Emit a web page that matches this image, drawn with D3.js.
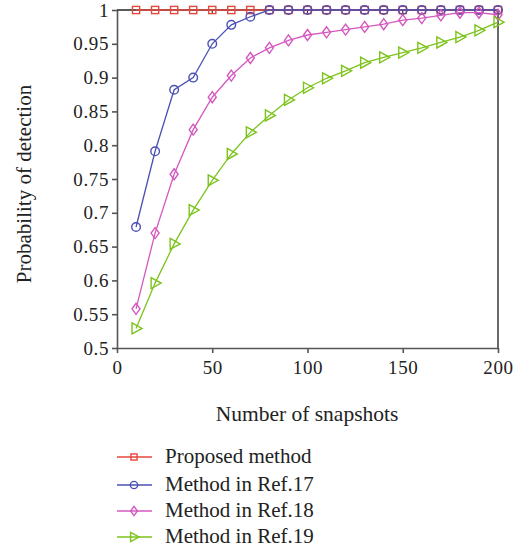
<!DOCTYPE html>
<html>
<head>
<meta charset="utf-8">
<script src="https://cdn.jsdelivr.net/npm/d3@7"></script>
<style>
  body { margin: 0; background: #fff; }
  svg { font-family: "Liberation Serif", "DejaVu Serif", serif; }
</style>
</head>
<body>
<div id="chart"></div>
<script>
// Snapshot counts on the x axis
const snapshots = [10, 20, 30, 40, 50, 60, 70, 80, 90, 100, 110, 120, 130, 140, 150, 160, 170, 180, 190, 200];

// Probability of detection per method
const proposed = [1, 1, 1, 1, 1, 1, 1, 1, 1, 1, 1, 1, 1, 1, 1, 1, 1, 1, 1, 1];
const ref17 = [0.679, 0.791, 0.882, 0.9, 0.95, 0.978, 0.99, 1, 1, 1, 1, 1, 1, 1, 1, 1, 1, 1, 1, 1];
const ref18 = [0.558, 0.670, 0.757, 0.823, 0.871, 0.903, 0.929, 0.944, 0.955, 0.963, 0.967, 0.971, 0.975, 0.979, 0.985, 0.988, 0.992, 0.996, 0.996, 0.993];
const ref19 = [0.529, 0.596, 0.654, 0.704, 0.748, 0.787, 0.819, 0.844, 0.867, 0.885, 0.899, 0.910, 0.922, 0.930, 0.937, 0.944, 0.952, 0.960, 0.970, 0.982];

const seriesNames = ["Proposed method", "Method in Ref.17", "Method in Ref.18", "Method in Ref.19"];
const xTicks = [0, 50, 100, 150, 200];
const yTicks = [0.5, 0.55, 0.6, 0.65, 0.7, 0.75, 0.8, 0.85, 0.9, 0.95, 1];

const series = [
    { name: seriesNames[0], values: proposed, color: "#e4473d", marker: "square" },
    { name: seriesNames[1], values: ref17, color: "#4b4fb3", marker: "circle" },
    { name: seriesNames[2], values: ref18, color: "#d458bf", marker: "diamond" },
    { name: seriesNames[3], values: ref19, color: "#7cc31c", marker: "triangle" }
];

const width = 531, height = 552;
const margin = { left: 117, right: 33, top: 10, bottom: 204 };

const svg = d3.select("#chart").append("svg")
    .attr("width", width)
    .attr("height", height);

const x = d3.scaleLinear().domain([0, 200]).range([margin.left, width - margin.right]);
const y = d3.scaleLinear().domain([0.5, 1]).range([height - margin.bottom, margin.top]);

// Draw a marker shape centred at (cx, cy); k scales it
function drawMarker(g, type, cx, cy, color, k) {
    const s = 3.6 * k;
    let m;
    if (type === "square") {
        m = g.append("rect").attr("x", cx - s).attr("y", cy - s).attr("width", 2 * s).attr("height", 2 * s);
    } else if (type === "circle") {
        m = g.append("circle").attr("cx", cx).attr("cy", cy).attr("r", 4.3 * k);
    } else if (type === "diamond") {
        m = g.append("path").attr("d", `M${cx},${cy - 5.5 * k}L${cx + 4 * k},${cy}L${cx},${cy + 5.5 * k}L${cx - 4 * k},${cy}Z`);
    } else {
        m = g.append("path").attr("d", `M${cx - 4 * k},${cy - 5.5 * k}L${cx + 6 * k},${cy}L${cx - 4 * k},${cy + 5.5 * k}Z`);
    }
    m.attr("fill", "none").attr("stroke", color).attr("stroke-width", 1.4);
}

// Axes
const xAxis = svg.append("g")
    .attr("transform", `translate(0,${y(0.5)})`)
    .call(d3.axisBottom(x).tickValues(xTicks).tickSize(5).tickSizeOuter(0));
const yAxis = svg.append("g")
    .attr("transform", `translate(${x(0)},0)`)
    .call(d3.axisLeft(y).tickValues(yTicks).tickFormat(d3.format("")).tickSize(5).tickSizeOuter(0));

[xAxis, yAxis].forEach(a => {
    a.selectAll("path, line").attr("stroke", "#555").attr("stroke-width", 1.6);
    a.selectAll("text").attr("fill", "#222").style("font-size", "19px")
        .style("letter-spacing", "0.6px").style("font-family", "Liberation Serif, serif");
});
xAxis.selectAll("text").attr("dy", "0.95em");
yAxis.selectAll("text").attr("x", -8);

// Top and right frame
svg.append("line").attr("x1", x(0)).attr("x2", x(200)).attr("y1", y(1)).attr("y2", y(1))
    .attr("stroke", "#222").attr("stroke-width", 1.4);
svg.append("line").attr("x1", x(200)).attr("x2", x(200)).attr("y1", y(1)).attr("y2", y(0.5))
    .attr("stroke", "#444").attr("stroke-width", 1.6);
svg.selectAll(".toptick").data(xTicks.slice(1, 4)).enter().append("line")
    .attr("x1", d => x(d)).attr("x2", d => x(d)).attr("y1", y(1)).attr("y2", y(1) + 4)
    .attr("stroke", "#333").attr("stroke-width", 1.2);

// Series lines and markers
const line = d3.line().x((d, i) => x(snapshots[i])).y(d => y(d));
series.forEach(s => {
    const g = svg.append("g");
    g.append("path").datum(s.values)
        .attr("d", line)
        .attr("fill", "none")
        .attr("stroke", s.color)
        .attr("stroke-width", 1.3);
    s.values.forEach((v, i) => drawMarker(g, s.marker, x(snapshots[i]), y(v), s.color, 1));
});

// Axis titles
svg.append("text")
    .attr("x", 307).attr("y", 421)
    .attr("text-anchor", "middle")
    .style("font-size", "21.5px").attr("fill", "#222")
    .text("Number of snapshots");
svg.append("text")
    .attr("transform", `translate(31,${(y(0.5) + y(1)) / 2 + 5}) rotate(-90)`)
    .attr("text-anchor", "middle")
    .style("font-size", "21px").attr("fill", "#222")
    .text("Probability of detection");

// Legend
const legendY = [457, 485, 511, 537];
series.forEach((s, i) => {
    const g = svg.append("g");
    g.append("line").attr("x1", 117).attr("x2", 152).attr("y1", legendY[i]).attr("y2", legendY[i])
        .attr("stroke", s.color).attr("stroke-width", 1.3);
    drawMarker(g, s.marker, 134, legendY[i], s.color, 0.85);
    g.append("text").attr("x", 165).attr("y", legendY[i] + 6)
        .style("font-size", "21px").attr("fill", "#222")
        .text(s.name);
});
</script>
</body>
</html>
